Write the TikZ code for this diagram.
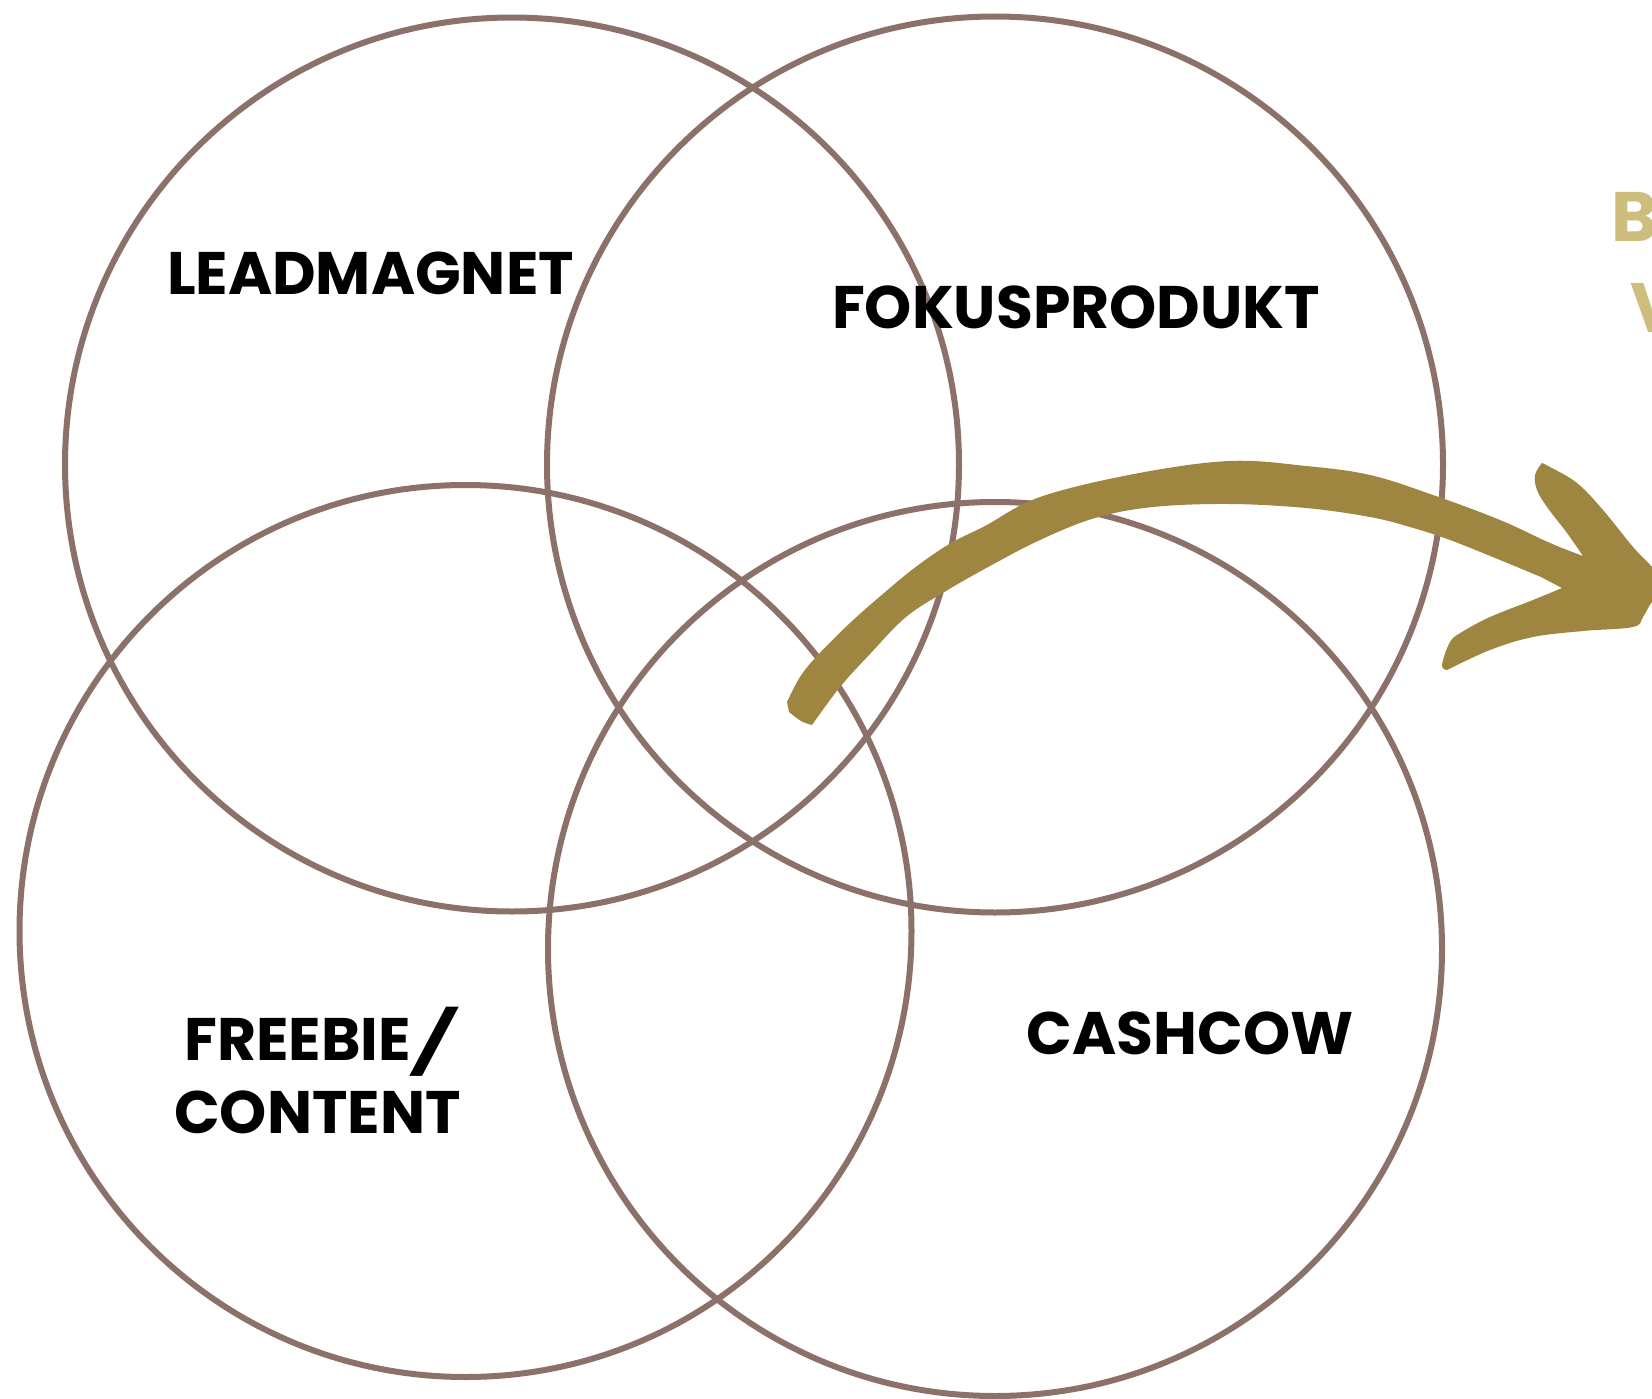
\documentclass[tikz,border=0pt]{standalone}
\usepackage{fontspec}
\setmainfont{Poppins}
\newfontfamily\slashfont{Poppins Bold}[FakeSlant=0.3]
\definecolor{ringcol}{RGB}{139,113,106}
\definecolor{arrowgold}{RGB}{159,134,64}
\definecolor{lightgold}{RGB}{205,190,126}
\begin{document}
\begin{tikzpicture}[x=1pt,y=-1pt,
  ring/.style={draw=ringcol,line width=6pt},
  lbl/.style={inner sep=0pt,font=\fontsize{60}{73}\selectfont\bfseries,text=black},
  sidelbl/.style={inner sep=0pt,font=\fontsize{70}{80}\selectfont\bfseries,text=lightgold,anchor=base west}]
\useasboundingbox (0,0) rectangle (1652,1399);
\clip (0,0) rectangle (1652,1399);
\fill[white] (0,0) rectangle (1652,1399);
% circles
\coordinate (ctl) at (512,464.5);
\coordinate (ctr) at (995,464.5);
\coordinate (cbl) at (465.5,931);
\coordinate (cbr) at (995,949);
\draw[ring] (ctl) circle[radius=447pt];
\draw[ring] (ctr) circle[radius=448pt];
\draw[ring] (cbl) circle[radius=446pt];
\draw[ring] (cbr) circle[radius=447pt];
% arrow (brush stroke)
\fill[arrowgold]
  plot[smooth,tension=0.6] coordinates {(787,702) (800,677) (817,656) (850,623) (884,593) (917,566) (951,543) (985,526) (1040,497) (1134,474) (1229,461) (1306,466) (1370,475) (1433,495) (1500,520) (1550,543) (1583,556)}
  -- plot[smooth,tension=0.6] coordinates {(1583,556) (1567,533) (1547,507) (1537,490) (1535,475) (1542,463)}
  -- plot[smooth,tension=0.6] coordinates {(1542,463) (1550,467) (1577,483) (1603,510) (1633,547) (1652,567) (1668,588)}
  -- plot[smooth,tension=0.6] coordinates {(1668,588) (1652,602) (1643,617) (1633,627) (1583,631) (1533,637) (1490,650) (1447,670)}
  -- plot[smooth,tension=0.6] coordinates {(1447,670) (1442,665) (1450,642) (1462,632) (1490,617) (1533,600) (1562,588)}
  -- (1541,577)
  -- plot[smooth,tension=0.6] coordinates {(1541,577) (1500,560) (1450,540) (1410,527) (1370,517) (1306,508) (1229,504) (1153,507) (1095,518) (1040,540) (990,566) (946,591) (906,617) (870,654) (840,687) (812,725)}
  -- plot[smooth,tension=0.6] coordinates {(812,725) (801,721) (789,712)} -- cycle;
% labels
\node[lbl,anchor=base] (leadmagnet) at (370.5,294) {LEADMAGNET};
\node[lbl,anchor=base] (fokus) at (1076,328) {FOKUSPRODUKT};
\node[lbl,anchor=base west] (freebie) at (184,1060) {FREEBIE\kern5pt{\slashfont\raisebox{-4pt}{/}}};
\node[lbl,anchor=base west] (content) at (174,1133) {CONTENT};
\node[lbl,anchor=base] (cashcow) at (1190,1054) {CASHCOW};
\node[sidelbl] (sideb) at (1611,242) {B};
\node[sidelbl] (sidev) at (1630,332) {V};
\end{tikzpicture}
\end{document}
